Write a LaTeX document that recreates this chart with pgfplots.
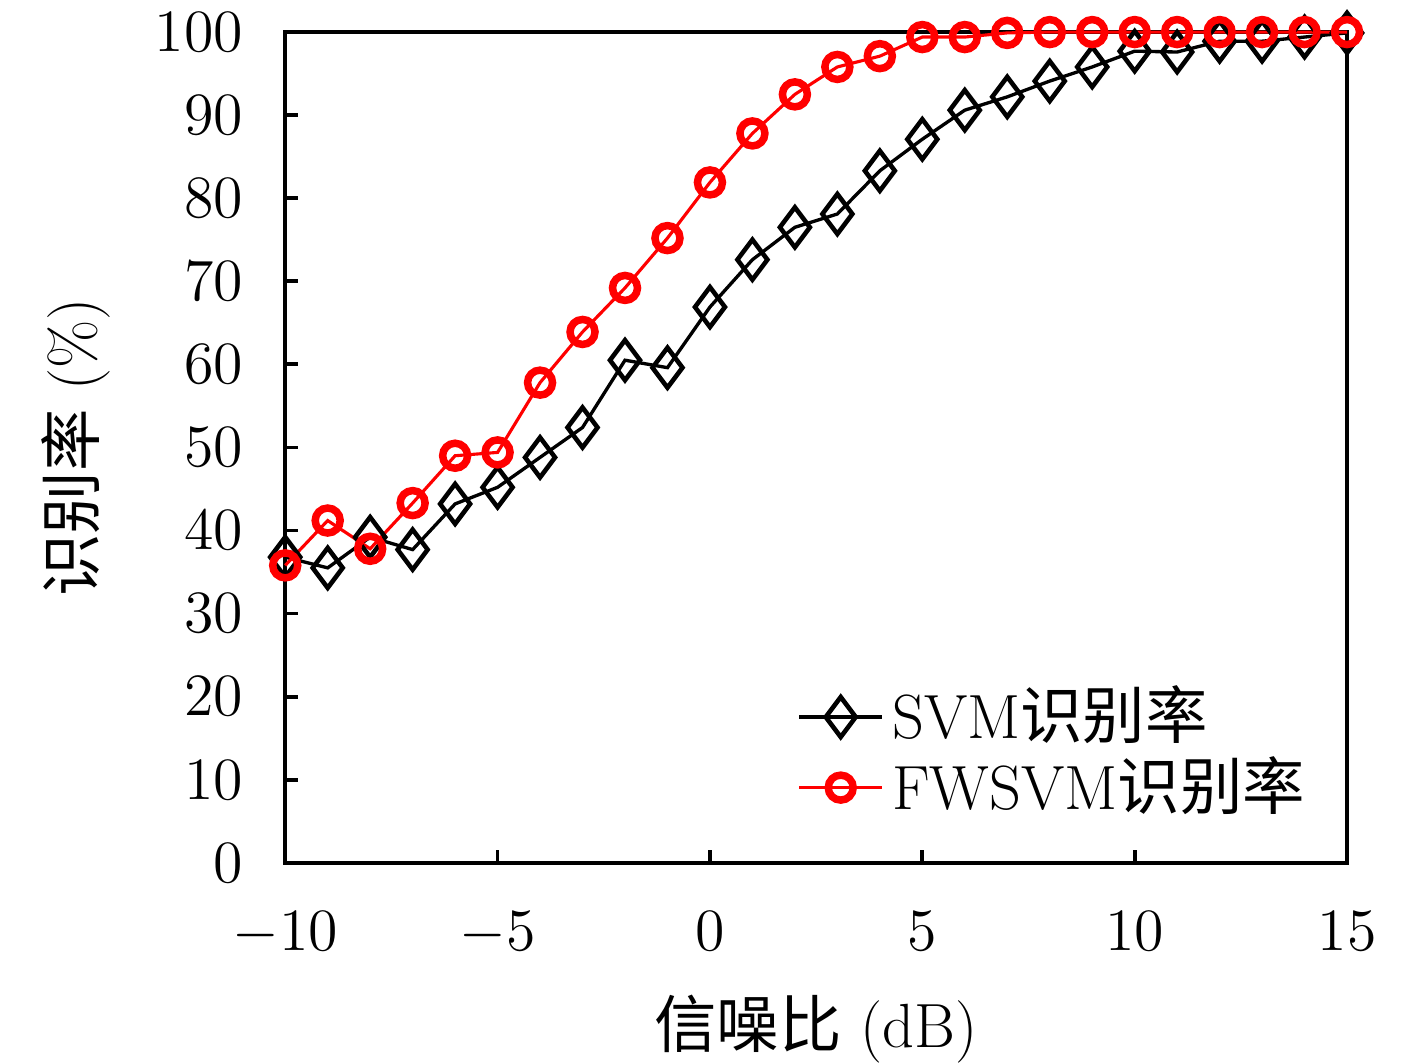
\documentclass[border=0pt]{standalone}
\usepackage{fontspec}
\usepackage{pgfplots}
\pgfplotsset{compat=1.18}
\newfontfamily\cjk{Noto Sans CJK SC}
\begin{document}
\fontsize{15}{18}\selectfont
\begin{tikzpicture}
\begin{axis}[
  scale only axis,
  width=255pt, height=199.5pt,
  xmin=-10, xmax=15, ymin=0, ymax=100,
  xtick={-10,-5,0,5,10,15},
  ytick={0,10,...,100},
  tick align=inside,
  xtick pos=bottom, ytick pos=left,
  major tick length=3pt,
  axis line style={line width=1pt},
  tick style={line width=0.9pt, black},
  xticklabel style={yshift=-6.5pt},
  yticklabel style={xshift=-5pt},
  ticklabel style={font=\fontsize{15}{18}\selectfont},
  xlabel={{\cjk 信噪比} (dB)},
  ylabel={{\cjk 识别率} (\%)},
  label style={font=\fontsize{15}{18}\selectfont},
  xlabel style={yshift=0.7pt},
  ylabel style={yshift=0.5pt},
  clip=false,
  legend image code/.code={\draw[mark repeat=2,mark phase=2] plot coordinates {(0cm,0cm) (0.35cm,0cm) (0.7cm,0cm)};},
  legend style={at={(0.47,0.234)}, anchor=north west, draw=none, fill=none,
    font=\fontsize{15}{18}\selectfont, row sep=-2pt},
  legend cell align=left,
]
\addplot[black, line width=0.8pt, mark=diamond, mark size=4.8pt,
  mark options={line width=1.1pt, fill=none, solid}] coordinates {
(-10,36.8) (-9,35.5) (-8,39.2) (-7,37.7) (-6,43.2) (-5,45.2) (-4,48.8) (-3,52.4)
(-2,60.5) (-1,59.6) (0,66.9) (1,72.6) (2,76.5) (3,78.1) (4,83.3) (5,87.1)
(6,90.6) (7,92.2) (8,94.1) (9,95.8) (10,97.7) (11,97.6) (12,98.9) (13,98.9)
(14,99.4) (15,99.9)};
\addlegendentry{SVM{\cjk 识别率}}
\addplot[red, line width=0.75pt, mark=o, mark size=3pt,
  mark options={line width=1.8pt, fill=none, solid}] coordinates {
(-10,35.8) (-9,41.2) (-8,37.8) (-7,43.3) (-6,49.0) (-5,49.4) (-4,57.8) (-3,63.9)
(-2,69.2) (-1,75.2) (0,81.9) (1,87.8) (2,92.5) (3,95.8) (4,97.1) (5,99.4)
(6,99.4) (7,99.9) (8,100) (9,100) (10,100) (11,100) (12,100) (13,100)
(14,100) (15,100)};
\addlegendentry{FWSVM{\cjk 识别率}}
\end{axis}
\pgfresetboundingbox
\path ([xshift=-68.5pt,yshift=-48pt]current axis.south west) rectangle ([xshift=16.8pt,yshift=7.7pt]current axis.north east);
\end{tikzpicture}
\end{document}
